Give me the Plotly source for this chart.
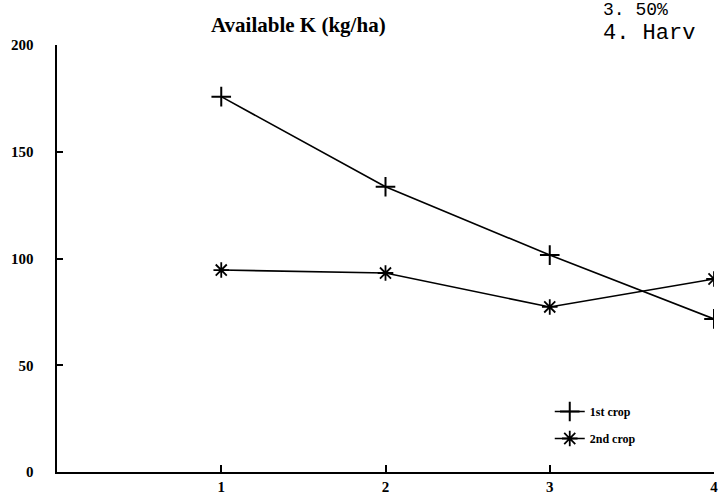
import plotly.graph_objects as go

stages = [1, 2, 3, 4]
crop1 = [175.8, 133.6, 101.6, 71.7]
crop2 = [94.6, 93.2, 77.3, 90.4]
series_names = ["1st crop", "2nd crop"]
x_ticks = [1, 2, 3, 4]
y_ticks = [0, 50, 100, 150, 200]

W, H = 722, 498
L, R, T, B = 57, 8, 45, 26
PW, PH = W - L - R, H - T - B
PAD = "\u00a0" * 5

fig = go.Figure()
fig.add_trace(go.Scatter(
    x=stages, y=crop1, name="<b>" + series_names[0] + "</b>", mode="lines+markers",
    legendgroup="a",
    line=dict(color="black", width=1.6),
    marker=dict(symbol="cross-thin", size=14, line=dict(color="black", width=2)),
))
fig.add_trace(go.Scatter(
    x=stages, y=crop2, name="<b>" + series_names[1] + "</b>", mode="lines+markers",
    legendgroup="b",
    line=dict(color="black", width=1.6),
    marker=dict(symbol="asterisk", size=13, line=dict(color="black", width=1.8)),
))

font_serif = "Liberation Serif"
fig.update_layout(
    width=W, height=H,
    margin=dict(l=L, r=R, t=T, b=B, autoexpand=False),
    paper_bgcolor="white", plot_bgcolor="white",
    showlegend=True,
    legend=dict(x=0.750, y=(472 - 397) / PH, xanchor="left", yanchor="top",
                font=dict(family=font_serif, size=12, color="black"),
                bgcolor="rgba(0,0,0,0)", tracegroupgap=8),
    xaxis=dict(range=[0, 4], tickmode="array", tickvals=x_ticks,
               ticktext=["<b>%d</b>" % v for v in x_ticks],
               showgrid=False, zeroline=False, showline=True, linecolor="black",
               linewidth=1.5, ticks="inside", ticklen=7, tickwidth=1.5, tickcolor="black",
               tickfont=dict(family=font_serif, size=15, color="black")),
    yaxis=dict(range=[0, 200], tickmode="array", tickvals=y_ticks,
               ticktext=["<b>%d</b>%s" % (v, PAD) for v in y_ticks],
               showgrid=False, zeroline=False, showline=True, linecolor="black",
               linewidth=1.5, ticks="inside", ticklen=6, tickwidth=1.5, tickcolor="black",
               tickfont=dict(family=font_serif, size=15, color="black")),
)

fig.add_annotation(text="<b>Available K (kg/ha)</b>", xref="paper", yref="paper",
                   x=(298 - L) / PW, y=1 + (T - 25) / PH,
                   xanchor="center", yanchor="middle", showarrow=False,
                   font=dict(family=font_serif, size=21, color="black"))
fig.add_annotation(text="4. Harv", xref="paper", yref="paper",
                   x=(601 - L) / PW, y=1 + (T - 34) / PH,
                   xanchor="left", yanchor="middle", showarrow=False,
                   font=dict(family="Liberation Mono", size=22, color="black"))
fig.add_annotation(text="3. 50%", xref="paper", yref="paper",
                   x=(601 - L) / PW, y=1 + (T - 10) / PH,
                   xanchor="left", yanchor="middle", showarrow=False,
                   font=dict(family="Liberation Mono", size=18, color="black"))

fig.write_html("out.html")
